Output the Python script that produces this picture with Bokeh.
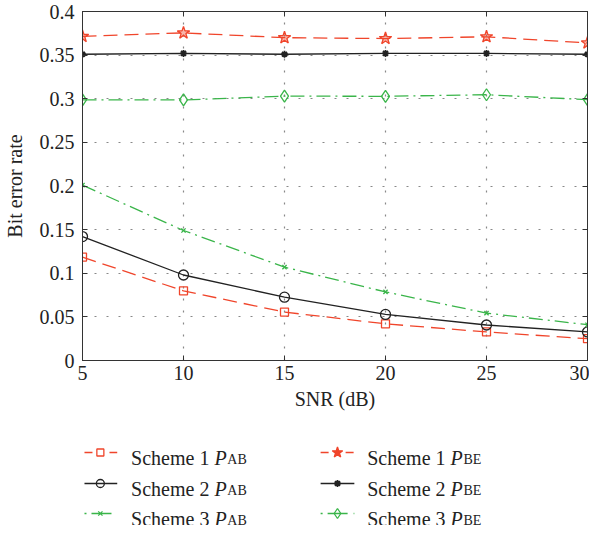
from bokeh.plotting import figure
from bokeh.models import Range1d, LinearAxis, FixedTicker, CustomJSTickFormatter, Label
from bokeh.layouts import column
from bokeh.embed import file_html
from bokeh.resources import INLINE

# ---- data ----
snr = [5, 10, 15, 20, 25, 30]
s1_pab = [0.1185, 0.0798, 0.0555, 0.042, 0.0327, 0.025]
s2_pab = [0.142, 0.098, 0.0726, 0.0528, 0.0407, 0.0327]
s3_pab = [0.201, 0.149, 0.107, 0.0786, 0.0543, 0.041]
s1_pbe = [0.3715, 0.3755, 0.370, 0.369, 0.371, 0.364]
s2_pbe = [0.351, 0.352, 0.351, 0.352, 0.352, 0.351]
s3_pbe = [0.2986, 0.2986, 0.303, 0.3028, 0.3046, 0.299]

x_ticks = [5, 10, 15, 20, 25, 30]
y_ticks = [0, 0.05, 0.1, 0.15, 0.2, 0.25, 0.3, 0.35, 0.4]
y_tick_labels = ["0", "0.05", "0.1", "0.15", "0.2", "0.25", "0.3", "0.35", "0.4"]
x_label = "SNR (dB)"
y_label = "Bit error rate"
scheme_names = ["Scheme 1", "Scheme 2", "Scheme 3"]
sub_ab = "AB"
sub_be = "BE"

FONT = "Liberation Serif"
RED = "#f0452b"
GREEN = "#3ab54a"
BLACK = "#222222"
AX = "#333333"
TXT = "#222222"

W = 589
LEFT = 78
p = figure(width=W, height=417, x_range=Range1d(5, 30), y_range=Range1d(0, 0.4),
           output_backend="svg", toolbar_location=None,
           min_border_left=LEFT, min_border_right=2, min_border_top=11, min_border_bottom=57,
           x_axis_label=x_label, y_axis_label=y_label)
p.outline_line_color = AX
p.background_fill_color = "white"

xt = FixedTicker(ticks=x_ticks)
yt = FixedTicker(ticks=y_ticks)
p.xaxis.ticker = xt
p.yaxis.ticker = yt
p.yaxis.major_label_overrides = {t: l for t, l in zip(y_ticks, y_tick_labels)}

for ax in [p.xaxis[0], p.yaxis[0]]:
    ax.major_tick_in = 5
    ax.major_tick_out = 0
    ax.minor_tick_line_color = None
    ax.axis_line_color = AX
    ax.major_tick_line_color = AX
    ax.major_label_text_font = FONT
    ax.major_label_text_font_size = "20px"
    ax.major_label_text_color = TXT
    ax.axis_label_text_font = FONT
    ax.axis_label_text_font_size = "20px"
    ax.axis_label_text_font_style = "normal"
    ax.axis_label_text_color = TXT
p.yaxis.major_label_standoff = 8
p.yaxis.axis_label_standoff = 11
p.xaxis.major_label_standoff = 5
p.xaxis.axis_label_standoff = 5

blank = CustomJSTickFormatter(code="return ''")
for loc, tk in [("above", xt), ("right", yt)]:
    a = LinearAxis(ticker=tk, formatter=blank)
    a.major_tick_in = 5
    a.major_tick_out = 0
    a.minor_tick_line_color = None
    a.axis_line_color = AX
    a.major_tick_line_color = AX
    a.major_label_standoff = 0
    a.major_label_text_font_size = "1px"
    p.add_layout(a, loc)

p.xgrid.ticker = xt
p.ygrid.ticker = yt
for g in [p.xgrid[0], p.ygrid[0]]:
    g.grid_line_color = "#888888"
    g.grid_line_dash = "2 10"
    g.grid_line_width = 1.2

DASH = "14 7"
DASHDOT = "14 5 2 5"

# Scheme 1 PAB
p.line(snr, s1_pab, line_color=RED, line_dash=DASH, line_width=1.3)
p.scatter(snr, s1_pab, marker="square", size=8, line_color=RED, fill_color=None, line_width=1.3)
# Scheme 2 PAB
p.line(snr, s2_pab, line_color=BLACK, line_width=1.3)
p.scatter(snr, s2_pab, marker="circle", size=10, line_color=BLACK, fill_color=None, line_width=1.3)
# Scheme 3 PAB
p.line(snr, s3_pab, line_color=GREEN, line_dash=DASHDOT, line_width=1.3)
p.scatter(snr, s3_pab, marker="x", size=6, line_color=GREEN, line_width=1.3)
# Scheme 1 PBE
p.line(snr, s1_pbe, line_color=RED, line_dash=DASH, line_width=1.3)
p.scatter(snr, s1_pbe, marker="star", size=13, line_color=RED, fill_color=RED, fill_alpha=0.4, line_width=1.3)
# Scheme 2 PBE
p.line(snr, s2_pbe, line_color=BLACK, line_width=1.3)
p.scatter(snr, s2_pbe, marker="asterisk", size=7, line_color=BLACK, line_width=1.8)
# Scheme 3 PBE
p.line(snr, s3_pbe, line_color=GREEN, line_dash=DASHDOT, line_width=1.3)
p.scatter(snr, s3_pbe, marker="diamond", size=12, line_color=GREEN, fill_color=None, line_width=1.3)

# ---- legend figure (1 unit = 1 px, x in canvas pixels) ----
LH = 108
lg = figure(width=W, height=LH, x_range=Range1d(LEFT, W - 2), y_range=Range1d(LH, 0),
            x_axis_type=None, y_axis_type=None, title=None,
            output_backend="svg", toolbar_location=None,
            min_border_left=LEFT, min_border_right=2, min_border_top=0, min_border_bottom=0)
lg.grid.visible = False
lg.outline_line_color = None

rows = [35, 66, 96]
cols = [(80, 113, 96, 127, 211, 224), (318, 352, 335, 365, 449, 462)]
entries = [
    (0, 0, RED, "8 17", "square", 7, None, 1.3, 0, sub_ab),
    (0, 1, BLACK, "solid", "circle", 8, None, 1.3, 1, sub_ab),
    (0, 2, GREEN, "2 5 20 6", "x", 6, None, 1.3, 2, sub_ab),
    (1, 0, RED, "8 17", "star", 11, RED, 1.3, 0, sub_be),
    (1, 1, BLACK, "solid", "asterisk", 7, None, 1.8, 1, sub_be),
    (1, 2, GREEN, "2 5 20 6", "diamond", 10, None, 1.3, 2, sub_be),
]
for c, r, color, dash, mk, sz, fill, lw, si, sub in entries:
    x0, x1, xm, xt0, xp, xs = cols[c]
    y = rows[r]
    lg.line([x0, x1], [y, y], line_color=color, line_dash=dash, line_width=1.3)
    lg.scatter([xm], [y], marker=mk, size=sz, line_color=color, fill_color=fill, line_width=lw)
    lg.add_layout(Label(x=xt0, y=y + 5, text=scheme_names[si], text_font=FONT, text_font_size="20px",
                        text_baseline="alphabetic", text_color=TXT))
    lg.add_layout(Label(x=xp, y=y + 5, text="P", text_font=FONT, text_font_size="20px",
                        text_font_style="italic", text_baseline="alphabetic", text_color=TXT))
    lg.add_layout(Label(x=xs, y=y + 7, text=sub, text_font=FONT, text_font_size="14px",
                        text_baseline="alphabetic", text_color=TXT))

layout = column(p, lg, spacing=0)
open("out.html", "w").write(file_html(layout, INLINE))
